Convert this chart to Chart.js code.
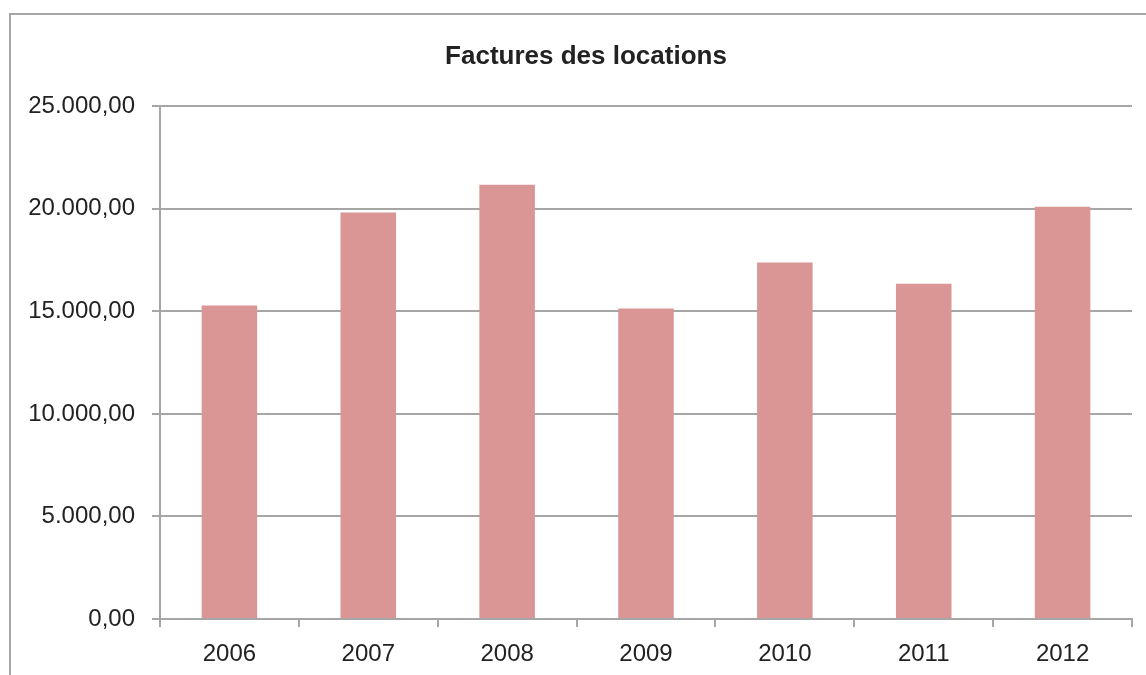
<!DOCTYPE html>
<html>
<head>
<meta charset="utf-8">
<script src="https://cdn.jsdelivr.net/npm/chart.js@4"></script>
<style>
    html, body { margin: 0; padding: 0; background: #fff; overflow: hidden; }
    #wrap { position: relative; width: 1146px; height: 675px; }
    #frame {
        position: absolute; left: 9px; top: 13px; width: 1200px; height: 700px;
        border: 2px solid #a6a6a6; box-sizing: border-box;
    }
    canvas { position: absolute; left: 0; top: 0; }
</style>
</head>
<body>
<div id="wrap">
    <div id="frame"></div>
    <canvas id="facturesChart" width="1146" height="675"></canvas>
</div>
<script>
const years = ["2006", "2007", "2008", "2009", "2010", "2011", "2012"];
const factures = [15278, 19819, 21172, 15132, 17378, 16338, 20098];
const yTicks = [0, 5000, 10000, 15000, 20000, 25000];

// 25000 -> "25.000,00"
function fmt(v) {
    const parts = Math.round(v).toString().replace(/\B(?=(\d{3})+(?!\d))/g, ".");
    return parts + ",00";
}

// title sits centred on the whole frame, not on the canvas -> nudge it right a bit
const titleShift = {
    id: "titleShift",
    afterLayout(chart) {
        if (chart.titleBlock) {
            chart.titleBlock.left += 10;
            chart.titleBlock.right += 10;
        }
    },
};

const ctx = document.getElementById("facturesChart");
new Chart(ctx, {
    type: "bar",
    data: {
        labels: years,
        datasets: [
            {
                label: "Factures",
                data: factures,
                backgroundColor: "#D99694",
                borderWidth: 0,
                categoryPercentage: 1,
                barPercentage: 0.4,
            },
        ],
    },
    options: {
        responsive: false,
        animation: false,
        layout: {
            padding: { left: 20, right: 14, top: 0, bottom: 0 },
        },
        scales: {
            x: {
                grid: {
                    offset: true,
                    drawOnChartArea: false,
                    drawTicks: true,
                    tickLength: 8,
                    color: "#a6a6a6",
                    lineWidth: 2,
                },
                border: { color: "#a6a6a6", width: 2 },
                ticks: {
                    color: "#222",
                    padding: 13,
                    font: { family: "Liberation Sans", size: 24 },
                },
                afterFit: (scale) => {
                    scale.height = 56;
                },
            },
            y: {
                min: 0,
                max: 25000,
                afterBuildTicks: (scale) => {
                    scale.ticks = yTicks.map((v) => ({ value: v }));
                },
                grid: {
                    color: "#a6a6a6",
                    lineWidth: 2,
                    drawTicks: true,
                    tickLength: 8,
                },
                border: { color: "#a6a6a6", width: 2 },
                ticks: {
                    color: "#222",
                    padding: 17,
                    font: { family: "Liberation Sans", size: 24 },
                    callback: (v) => fmt(v),
                },
                afterFit: (scale) => {
                    scale.width = 140;
                },
            },
        },
        plugins: {
            legend: { display: false },
            tooltip: { enabled: false },
            title: {
                display: true,
                text: "Factures des locations",
                color: "#222",
                font: { family: "Liberation Sans", size: 26, weight: "bold", lineHeight: 1.2 },
                padding: { top: 41, bottom: 34 },
            },
        },
    },
    plugins: [titleShift],
});
</script>
</body>
</html>
